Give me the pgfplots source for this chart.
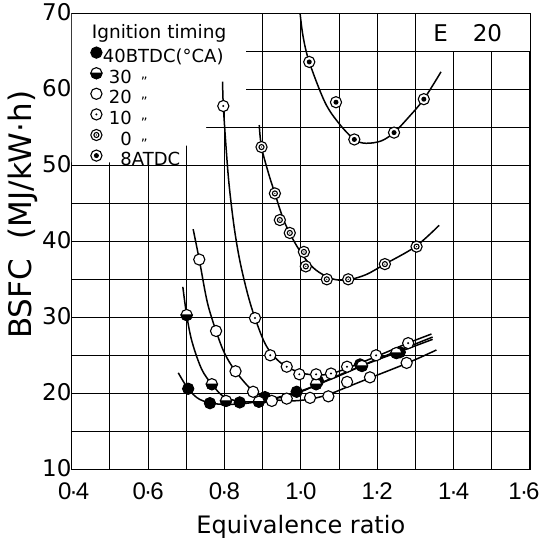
\documentclass[border=0pt]{standalone}
\usepackage{fontspec}
\setmainfont{DejaVu Sans}
\newfontfamily\lib{Liberation Sans}
\usepackage{graphicx}
\usepackage{pgfplots}
\pgfplotsset{compat=1.18}

\pgfdeclareplotmark{halfc}{%
  \pgfpathcircle{\pgfpointorigin}{\pgfplotmarksize}%
  \pgfsetfillcolor{white}\pgfusepathqfillstroke
  \pgfpathmoveto{\pgfqpoint{\pgfplotmarksize}{0pt}}%
  \pgfpatharc{0}{-180}{\pgfplotmarksize}%
  \pgfpathclose
  \pgfsetfillcolor{black}\pgfusepathqfillstroke
}
\pgfdeclareplotmark{dotc}{%
  \pgfpathcircle{\pgfpointorigin}{\pgfplotmarksize}%
  \pgfsetfillcolor{white}\pgfusepathqfillstroke
  \pgfpathcircle{\pgfpointorigin}{0.2\pgfplotmarksize}%
  \pgfsetfillcolor{black}\pgfusepathqfill
}
\pgfdeclareplotmark{ringc}{%
  \pgfpathcircle{\pgfpointorigin}{\pgfplotmarksize}%
  \pgfsetfillcolor{white}\pgfusepathqfillstroke
  \pgfpathcircle{\pgfpointorigin}{0.45\pgfplotmarksize}%
  \pgfusepathqstroke
  \pgfpathcircle{\pgfpointorigin}{0.12\pgfplotmarksize}%
  \pgfsetfillcolor{black}\pgfusepathqfill
}
\pgfdeclareplotmark{bigdot}{%
  \pgfpathcircle{\pgfpointorigin}{\pgfplotmarksize}%
  \pgfsetfillcolor{white}\pgfusepathqfillstroke
  \pgfpathcircle{\pgfpointorigin}{0.45\pgfplotmarksize}%
  \pgfsetfillcolor{black}\pgfusepathqfill
}
\newcommand\ditto{{\fontsize{13}{13}\selectfont\raisebox{-3pt}{"}}}
\newcommand\tk[2]{#1\kern-1.8pt·\kern-1.8pt#2}

\begin{document}
\begin{tikzpicture}
\useasboundingbox (-71.7pt,-71.7pt) rectangle (471.3pt,469.3pt);
\begin{axis}[
  at={(0,0)}, anchor=south west,
  scale only axis, width=458.3pt, height=456pt,
  xmin=0.4, xmax=1.6, ymin=10, ymax=70,
  xtick={0.4,0.6,0.8,1.0,1.2,1.4,1.6},
  xticklabels={\hspace{4pt}\tk04,\tk06,\tk08,\tk10,\tk12,\tk14,\hspace{-12pt}\tk16},
  ytick={10,20,30,40,50,60,70},
  minor xtick={0.5,0.7,0.9,1.1,1.3,1.5},
  minor ytick={15,25,35,45,55,65},
  grid=both,
  major grid style={black, line width=0.9pt},
  minor grid style={black, line width=0.9pt},
  axis line style={black, line width=1.2pt},
  major tick length=0pt, minor tick length=0pt,
  /pgf/number format/assume math mode=true,
  xticklabel style={font=\lib\fontsize{24}{24}\selectfont, anchor=north, inner sep=0pt, yshift=-13.5pt},
  yticklabel style={font=\fontsize{23}{23}\selectfont, anchor=east, inner sep=0pt, xshift=0pt, yshift=1pt},
  every axis x label/.style={at={([yshift=-63.7pt]axis description cs:0.5,0)}, anchor=base},
  every axis y label/.style={at={([xshift=-40pt]axis description cs:0,0.558)}, rotate=90, anchor=base},
  xlabel={Equivalence ratio},
  ylabel={BSFC\ \ (MJ/kW·h)},
  xlabel style={font=\fontsize{24}{24}\selectfont},
  ylabel style={font=\fontsize{31}{31}\selectfont},
  legend style={at={([xshift=18.9pt,yshift=-33.5pt]axis description cs:0,1)}, anchor=north west,
    draw=none, fill=none, inner sep=0pt, row sep=0pt, column sep=1pt,
    font=\fontsize{18}{18}\selectfont,
    nodes={inner sep=0pt, text height=14pt, text depth=5pt}},
  legend cell align=left,
  legend image code/.code={\draw[#1] plot coordinates {(0pt,5.5pt)};},
  clip=true,
]
% white backdrops for legend and label
\fill[white] (axis cs:0.4,70) -- (axis cs:0.856,70) -- (axis cs:0.856,57.5) -- (axis cs:0.752,57.5)
  -- (axis cs:0.752,52.6) -- (axis cs:0.66,52.6) -- (axis cs:0.66,50.4) -- (axis cs:0.4,50.4) -- cycle;
\fill[white] (axis cs:1.3,65) rectangle (axis cs:1.6,70);
\draw[line width=0.9pt] (axis cs:1.3,70) -- (axis cs:1.3,65) -- (axis cs:1.6,65);
\draw[line width=1.2pt] (axis cs:0.4,70) -- (axis cs:1.6,70);
\draw[line width=1.2pt] (axis cs:0.4,50) -- (axis cs:0.4,70);

% fitted curves
\addplot[black, line width=1.5pt, smooth, tension=0.55, forget plot] coordinates {
 (0.679,22.7) (0.705,20.6) (0.735,19.2) (0.78,18.6) (0.84,18.6) (0.90,19.0) (0.95,19.5)
 (1.0,20.2) (1.05,21.3) (1.10,22.4) (1.20,24.4) (1.26,25.5) (1.345,27.1)};
\addplot[black, line width=1.5pt, smooth, tension=0.55, forget plot] coordinates {
 (0.691,34.0) (0.701,30.3) (0.715,26.8) (0.74,23.2) (0.767,21.2) (0.80,19.5) (0.85,18.9)
 (0.90,19.0) (0.95,19.6) (1.0,20.3) (1.1,22.3) (1.2,24.5) (1.3,26.5) (1.345,27.4)};
\addplot[black, line width=1.5pt, smooth, tension=0.55, forget plot] coordinates {
 (0.718,41.6) (0.734,37.6) (0.755,32.0) (0.778,28.2) (0.80,25.3) (0.829,22.9) (0.875,20.3)
 (0.92,19.3) (0.97,19.0) (1.02,19.2) (1.07,19.8) (1.12,20.8) (1.18,22.0) (1.28,24.0) (1.355,25.7)};
\addplot[black, line width=1.5pt, smooth, tension=0.55, forget plot] coordinates {
 (0.795,61.0) (0.797,57.8) (0.804,52.5) (0.812,47.5) (0.825,42.0) (0.84,37.5) (0.86,33.2)
 (0.88,29.9) (0.91,26.2) (0.95,23.9) (1.0,22.7) (1.05,22.4) (1.1,22.9) (1.2,24.9) (1.28,26.6) (1.342,27.8)};
\addplot[black, line width=1.5pt, smooth, tension=0.55, forget plot] coordinates {
 (0.891,55.3) (0.897,52.4) (0.915,49.0) (0.932,46.3) (0.955,42.8) (0.98,40.2) (1.01,37.8)
 (1.04,36.2) (1.08,35.1) (1.12,34.9) (1.17,35.6) (1.22,37.0) (1.30,39.3) (1.362,42.1)};
\addplot[black, line width=1.5pt, smooth, tension=0.55, forget plot] coordinates {
 (0.998,70) (1.006,66.9) (1.022,63.6) (1.063,58.3) (1.10,55.5) (1.14,53.4) (1.17,52.9)
 (1.21,53.2) (1.244,54.3) (1.28,56.2) (1.322,58.7) (1.367,62.3)};

% measured points
\addplot[black, only marks, mark=*, mark size=5.6pt, mark options={fill=black, line width=1.1pt}] coordinates {
 (0.705,20.6) (0.762,18.7) (0.840,18.8) (0.906,19.5) (0.989,20.2) (1.045,21.6) (1.155,23.8) (1.259,25.4)};
\addlegendentry{40BTDC(°CA)}
\addplot[black, only marks, mark=halfc, mark size=5.6pt, mark options={line width=1.1pt}] coordinates {
 (0.701,30.3) (0.767,21.2) (0.804,19.0) (0.890,18.9) (1.04,21.2) (1.16,23.6) (1.25,25.3)};
\addlegendentry{\hspace{6pt}30\hspace{9pt}\ditto}
\addplot[black, only marks, mark=*, mark size=5.6pt, mark options={fill=white, line width=1.1pt}] coordinates {
 (0.734,37.6) (0.778,28.2) (0.829,22.9) (0.875,20.2) (0.924,19.0) (0.963,19.3) (1.024,19.4)
 (1.072,19.6) (1.121,21.5) (1.181,22.1) (1.277,24.0)};
\addlegendentry{\hspace{6pt}20\hspace{9pt}\ditto}
\addplot[black, only marks, mark=dotc, mark size=5.6pt, mark options={line width=1.1pt}] coordinates {
 (0.797,57.8) (0.880,29.9) (0.920,25.0) (0.963,23.5) (0.996,22.5) (1.040,22.5) (1.079,22.6)
 (1.121,23.5) (1.197,25.0) (1.281,26.6)};
\addlegendentry{\hspace{6pt}10\hspace{9pt}\ditto}
\addplot[black, only marks, mark=ringc, mark size=5.6pt, mark options={line width=1.1pt}] coordinates {
 (0.897,52.4) (0.932,46.3) (0.945,42.8) (0.971,41.1) (1.008,38.6) (1.013,36.7) (1.068,35.0)
 (1.124,35.0) (1.220,37.0) (1.303,39.3)};
\addlegendentry{\hspace{6pt}\phantom{3}0\hspace{9pt}\ditto}
\addplot[black, only marks, mark=bigdot, mark size=5.6pt, mark options={line width=1.1pt}] coordinates {
 (1.022,63.6) (1.092,58.3) (1.140,53.4) (1.244,54.3) (1.322,58.7)};
\addlegendentry{\hspace{6pt}\phantom{3}8ATDC}

\node[anchor=base west, inner sep=0pt, font=\fontsize{18.5}{18.5}\selectfont]
  at ([xshift=20pt,yshift=-25pt]axis description cs:0,1) {Ignition timing};
\node[anchor=center, inner sep=0pt, font=\fontsize{23}{23}\selectfont]
  at (axis cs:1.437,67.37) {E\hspace{25pt}20};
\end{axis}
\end{tikzpicture}
\end{document}
